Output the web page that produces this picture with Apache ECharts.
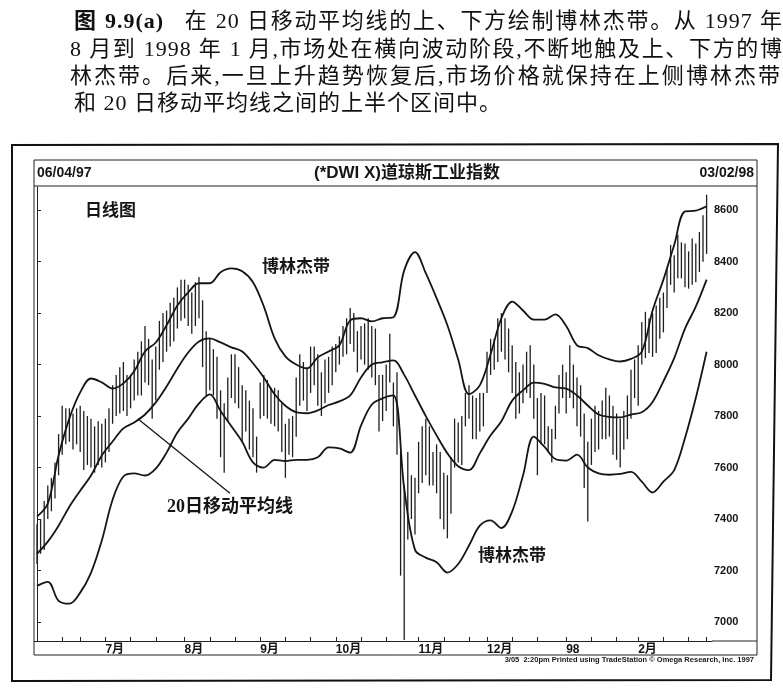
<!DOCTYPE html>
<html>
<head>
    <meta http-equiv="Content-type" content="text/html; charset=utf-8">
    <title>图9.9(a) 博林杰带 - 道琼斯工业指数日线图</title>
    <script src="https://cdn.jsdelivr.net/npm/echarts@6.0.0/dist/echarts.min.js"></script>
    <style>
        body { margin: 0; background: #fff; }
        #container { position: absolute; left: 0; top: 0; width: 783px; height: 690px; }
        .cap {
            position: absolute; z-index: 2;
            font-family: "Liberation Serif", "Noto Sans CJK SC", serif;
            font-size: 22px; line-height: 27px; letter-spacing: 1px; color: #111;
            text-align: justify; text-align-last: justify;
        }
        .cap b { font-weight: bold; }
        .gap { display: inline-block; width: 20px; }
    </style>
</head>
<body>
    <!-- caption above the chart, kept as html text so the lines can be justified -->
    <div class="cap" style="left:74px;top:7px;width:709px"><b>图 9.9(a)</b><span class="gap"></span>在 20 日移动平均线的上、下方绘制博林杰带。从 1997 年</div>
    <div class="cap" style="left:70px;top:35px;width:713px">8 月到 1998 年 1 月,市场处在横向波动阶段,不断地触及上、下方的博</div>
    <div class="cap" style="left:70px;top:62px;width:711px">林杰带。后来,一旦上升趋势恢复后,市场价格就保持在上侧博林杰带</div>
    <div class="cap" style="left:74px;top:89px;text-align:left;text-align-last:left">和 20 日移动平均线之间的上半个区间中。</div>

    <div id="container"></div>

<script type="text/javascript">
// daily bars, 06/04/97 .. 03/02/98 (bar index 0..186)
var highs = [
    // Jun
    7380, 7400, 7470, 7530, 7560, 7620, 7730, 7840, 7830, 7830, 7810, 7830, 7840, 7820, 7800, 7790, 7760, 7780, 7770,
    // Jul
    7790, 7830, 7920, 7960, 7990, 8010, 7960, 7960, 8020, 8050, 8090, 8150, 8100, 8020, 8070, 8170, 8200, 8210, 8240, 8260, 8300, 8330,
    // Aug
    8330, 8310, 8280, 8320, 8340, 8250, 8130, 8100, 8060, 8030, 7900, 7850, 7950, 8040, 8040, 7990, 7920, 7900, 7860, 7830, 7720,
    // Sep
    7930, 7960, 7940, 7910, 7910, 7900, 7850, 7770, 7790, 7800, 7950, 8040, 8010, 7990, 8070, 8070, 8040, 7970, 8020, 8030, 8070,
    // Oct
    8080, 8110, 8150, 8180, 8220, 8200, 8130, 8150, 8160, 8180, 8150, 8140, 7960, 7960, 8000, 8120, 7930, 7970, 7660, 7530, 7660, 7570, 7560,
    // Nov
    7700, 7760, 7790, 7760, 7660, 7690, 7660, 7580, 7570, 7640, 7790, 7775, 7800, 7890, 7920, 7880, 7870, 7890, 7890,
    // Dec
    8050, 8100, 8100, 8180, 8200, 8180, 8140, 8075, 8010, 7970, 8000, 8050, 8075, 8000, 7870, 7890, 7880, 7760, 7750, 7840, 7960, 8000,
    // Jan
    7970, 8075, 8000, 7950, 7920, 7810, 7700, 7790, 7840, 7820, 7860, 7910, 7880, 7840, 7810, 7790, 7820, 7880, 7980, 8020,
    // Feb
    8075, 8165, 8205, 8180, 8200, 8230, 8260, 8280, 8375, 8465, 8425, 8505, 8475, 8470, 8440, 8490, 8470, 8515, 8580,
    // Mar
    8660
];
var lows = [
    7225, 7265, 7280, 7400, 7430, 7480, 7570, 7650, 7690, 7700, 7670, 7690, 7660, 7590, 7610, 7600, 7580, 7610, 7600,
    7620, 7660, 7770, 7800, 7810, 7820, 7800, 7830, 7860, 7880, 7880, 7930, 7920, 7790, 7860, 7980, 8010, 8050, 8070, 8090, 8140, 8170,
    8180, 8150, 8120, 8150, 8180, 7990, 7880, 7900, 7880, 7790, 7640, 7580, 7780, 7870, 7850, 7830, 7700, 7740, 7670, 7640, 7580,
    7790, 7800, 7790, 7770, 7760, 7740, 7660, 7560, 7650, 7640, 7720, 7840, 7860, 7820, 7890, 7920, 7840, 7800, 7850, 7890, 7920,
    7970, 8000, 8030, 8040, 8080, 8050, 7970, 8020, 8000, 7980, 7950, 7920, 7740, 7780, 7820, 7930, 7760, 7650, 7180, 6930, 7320, 7400, 7340,
    7500, 7540, 7570, 7530, 7530, 7500, 7400, 7360, 7325, 7420, 7600, 7620, 7610, 7760, 7790, 7710, 7710, 7740, 7760,
    7890, 7960, 7980, 8010, 8050, 8020, 7970, 7890, 7790, 7810, 7850, 7890, 7870, 7790, 7570, 7690, 7690, 7660, 7620, 7710, 7810, 7870,
    7810, 7870, 7830, 7760, 7720, 7520, 7390, 7610, 7660, 7670, 7710, 7710, 7720, 7650, 7630, 7600, 7670, 7710, 7790, 7870,
    7840, 8000, 8025, 8045, 8030, 8045, 8100, 8125, 8220, 8310, 8280, 8335, 8335, 8300, 8295, 8310, 8320, 8360, 8400,
    8430
];

// band lines, read every third bar
var lineIdx = [0, 3, 6, 9, 12, 15, 18, 21, 24, 27, 30, 33, 36, 39, 42, 45, 48, 51, 54, 57, 60,
    63, 66, 69, 72, 75, 78, 81, 84, 87, 90, 93, 96, 99, 102, 105, 108, 111, 114, 117, 120,
    123, 126, 129, 132, 135, 138, 141, 144, 147, 150, 153, 156, 159, 162, 165, 168, 171, 174,
    177, 180, 183, 186];
var upperBand = [7409, 7460, 7647, 7791, 7892, 7946, 7931, 7907, 7927, 7974, 8051, 8086, 8153, 8230, 8281, 8316, 8316, 8359, 8374, 8363, 8320,
    8226, 8102, 8032, 8000, 7985, 8028, 8051, 8075, 8172, 8180, 8168, 8180, 8184, 8366, 8437, 8355, 8258, 8153, 8020, 7885,
    7919, 8040, 8180, 8245, 8210, 8175, 8175, 8195, 8150, 8075, 8064, 8036, 8020, 8012, 8022, 8050, 8210, 8330,
    8465, 8595, 8598, 8615];
var movingAvg = [7265, 7312, 7374, 7448, 7510, 7569, 7647, 7701, 7752, 7775, 7806, 7853, 7915, 7985, 8047, 8090, 8102, 8086, 8067, 8051, 8005,
    7950, 7885, 7840, 7815, 7811, 7822, 7843, 7857, 7880, 7950, 8000, 8009, 8016, 7960, 7880, 7800, 7725, 7655, 7605, 7590,
    7655, 7725, 7780, 7860, 7900, 7930, 7925, 7911, 7907, 7880, 7841, 7806, 7797, 7795, 7806, 7815, 7855, 7935,
    8025, 8140, 8225, 8330];
var lowerBand = [7140, 7156, 7082, 7071, 7114, 7191, 7316, 7475, 7565, 7577, 7569, 7596, 7658, 7736, 7790, 7849, 7884, 7820, 7760, 7700, 7620,
    7600, 7630, 7625, 7630, 7630, 7640, 7678, 7674, 7658, 7763, 7845, 7869, 7880, 7520, 7280, 7250, 7232, 7192, 7225, 7297,
    7374, 7395, 7365, 7430, 7569, 7720, 7680, 7633, 7627, 7650, 7600, 7577, 7572, 7575, 7583, 7545, 7503, 7545,
    7590, 7715, 7870, 8050];

// axes
var monthStarts = [19, 41, 62, 83, 106, 125, 147, 167];
var monthNames = ['7月', '8月', '9月', '10月', '11月', '12月', '98', '2月'];
var tickIdx = [7, 12, 19, 26, 33, 41, 48, 55, 62, 69, 76, 83, 90, 97, 106, 113, 120, 125, 132, 139, 147, 154, 161, 167, 174, 181, 186];
var yTicks = [7000, 7200, 7400, 7600, 7800, 8000, 8200, 8400, 8600];

var barData = highs.map(function (h, i) { return [i, lows[i], h]; });
function pairs(vals) {
    return vals.map(function (v, k) { return [lineIdx[k], v]; });
}

var dom = document.getElementById("container");
var myChart = echarts.init(dom);
var option = null;
var ink = '#151515';
var bandLine = { color: ink, width: 1.8 };

option = {
    animation: false,
    backgroundColor: '#fff',
    grid: { left: 34, right: 71, top: 187, bottom: 49 },
    xAxis: {
        type: 'value',
        min: -0.83,
        max: 187.5,
        splitLine: { show: false },
        axisLine: { show: true, lineStyle: { color: '#222', width: 1 } },
        axisTick: { show: true, inside: true, length: 4, customValues: tickIdx, lineStyle: { color: '#222' } },
        axisLabel: {
            customValues: monthStarts,
            formatter: function (v) { return monthNames[monthStarts.indexOf(v)]; },
            align: 'left',
            margin: 3,
            color: ink,
            fontSize: 12,
            fontWeight: 'bold',
            fontFamily: '"Liberation Sans", "Noto Sans CJK SC"'
        }
    },
    yAxis: {
        type: 'value',
        position: 'right',
        min: 6926,
        max: 8690,
        splitLine: { show: false },
        axisLine: { show: true, lineStyle: { color: '#222', width: 1 } },
        axisTick: { show: true, inside: false, length: 4, customValues: yTicks, lineStyle: { color: '#222' } },
        axisLabel: {
            customValues: yTicks,
            formatter: function (v) { return String(v); },
            margin: 2,
            color: ink,
            fontSize: 11,
            fontWeight: 'bold',
            fontFamily: '"Liberation Sans"'
        }
    },
    series: [
        {
            name: 'bars',
            type: 'custom',
            data: barData,
            encode: { x: 0, y: [1, 2] },
            renderItem: function (params, api) {
                var top = api.coord([api.value(0), api.value(2)]);
                var bot = api.coord([api.value(0), api.value(1)]);
                return {
                    type: 'line',
                    shape: { x1: top[0], y1: top[1], x2: bot[0], y2: bot[1] },
                    style: { stroke: '#1e1e1e', lineWidth: 1.3 }
                };
            },
            silent: true
        },
        { name: '上轨', type: 'line', data: pairs(upperBand), smooth: 0.35, symbol: 'none', lineStyle: bandLine, silent: true },
        {
            name: '20日移动平均线', type: 'line', data: pairs(movingAvg), smooth: 0.35, symbol: 'none', lineStyle: bandLine, silent: true,
            markLine: {
                silent: true,
                symbol: ['none', 'none'],
                label: { show: false },
                lineStyle: { color: ink, width: 1.3, type: 'solid' },
                data: [[{ coord: [28, 7790] }, { coord: [53.6, 7500] }]]
            }
        },
        { name: '下轨', type: 'line', data: pairs(lowerBand), smooth: 0.35, symbol: 'none', lineStyle: bandLine, silent: true }
    ],
    graphic: [
        // outer frame (slightly skewed in the scan) and the chart box
        { type: 'polygon', silent: true, shape: { points: [[12, 145], [778, 144], [771, 680], [12, 681]] },
          style: { fill: 'rgba(0,0,0,0)', stroke: '#111', lineWidth: 2 } },
        { type: 'rect', silent: true, shape: { x: 34, y: 160, width: 723, height: 495 },
          style: { fill: 'rgba(0,0,0,0)', stroke: '#222', lineWidth: 1 } },
        { type: 'line', silent: true, shape: { x1: 34, y1: 186, x2: 757, y2: 186 }, style: { stroke: '#222', lineWidth: 1 } },
        { type: 'line', silent: true, shape: { x1: 712, y1: 641, x2: 757, y2: 641 }, style: { stroke: '#222', lineWidth: 1 } },
        // title bar
        { type: 'text', silent: true, x: 37, y: 173,
          style: { text: '06/04/97', font: 'bold 14px "Liberation Sans"', fill: ink, align: 'left', verticalAlign: 'middle' } },
        { type: 'text', silent: true, x: 407, y: 173,
          style: { text: '(*DWI X)道琼斯工业指数', font: 'bold 17px "Liberation Sans", "Noto Sans CJK SC"', fill: ink, align: 'center', verticalAlign: 'middle' } },
        { type: 'text', silent: true, x: 754, y: 173,
          style: { text: '03/02/98', font: 'bold 14px "Liberation Sans"', fill: ink, align: 'right', verticalAlign: 'middle' } },
        // notes inside the plot
        { type: 'text', silent: true, x: 85, y: 210,
          style: { text: '日线图', font: 'bold 17px "Noto Sans CJK SC"', fill: ink, align: 'left', verticalAlign: 'middle' } },
        { type: 'text', silent: true, x: 262, y: 266,
          style: { text: '博林杰带', font: 'bold 17px "Noto Sans CJK SC"', fill: ink, align: 'left', verticalAlign: 'middle' } },
        { type: 'text', silent: true, x: 167, y: 507,
          style: { text: '20日移动平均线', font: 'bold 18px "Liberation Serif", "Noto Sans CJK SC"', fill: ink, align: 'left', verticalAlign: 'middle' } },
        { type: 'text', silent: true, x: 478, y: 555,
          style: { text: '博林杰带', font: 'bold 17px "Noto Sans CJK SC"', fill: ink, align: 'left', verticalAlign: 'middle' } },
        // printer's footnote
        { type: 'text', silent: true, x: 754, y: 660,
          style: { text: '3/05  2:20pm Printed using TradeStation © Omega Research, Inc. 1997', font: 'bold 7.5px "Liberation Sans Narrow", "Liberation Sans"', fill: ink, align: 'right', verticalAlign: 'middle' } }
    ]
};

if (option && typeof option === "object") {
    myChart.setOption(option, true);
}
</script>
</body>
</html>
